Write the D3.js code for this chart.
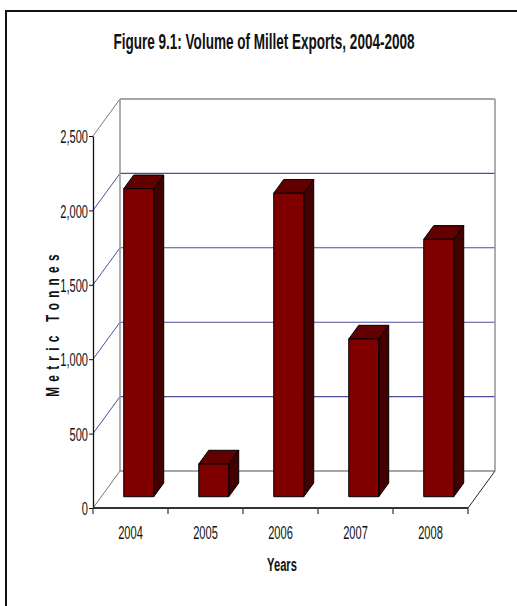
<!DOCTYPE html>
<html>
<head>
<meta charset="utf-8">
<script src="https://cdn.jsdelivr.net/npm/d3@7"></script>
<style>
  html, body { margin: 0; padding: 0; background: #fff; }
  svg { display: block; font-family: "Liberation Sans", Arial, sans-serif; }
</style>
</head>
<body>
<svg id="chart" width="517" height="606"></svg>
<script>
// Millet export volumes by year (metric tonnes)
const years = ["2004", "2005", "2006", "2007", "2008"];
const tonnes = [2070, 220, 2040, 1060, 1730];
const yTicks = [0, 500, 1000, 1500, 2000, 2500];
const titleText = "Figure 9.1: Volume of Millet Exports, 2004-2008";
const xTitle = "Years";
const yTitle = "Metric Tonnes";

const svg = d3.select("#chart");

// Plot frame (front plane) and the 3-D depth offset of the back wall
const plot = { left: 93, right: 468, top: 136, bottom: 508 };
const depth = { dx: 27, dy: -37 };
const barDepth = { front: 0.305, back: 0.675 };
const narrow = 0.6; // condensed lettering

const xCat = d3.scaleBand().domain(years).range([plot.left, plot.right]);
const xBar = xCat.copy().paddingInner(0.6).paddingOuter(0.3);
const y = d3.scaleLinear().domain([0, 2500]).range([plot.bottom, plot.top]);

const proj = (px, py, f) => [px + f * depth.dx, py + f * depth.dy];

// Outer frame
svg.append("rect")
  .attr("x", 6).attr("y", 11).attr("width", 620).attr("height", 700)
  .attr("fill", "none").attr("stroke", "#111").attr("stroke-width", 2);

// Title
svg.append("text")
  .attr("transform", `translate(264,49) scale(${narrow + 0.015},1)`)
  .attr("text-anchor", "middle")
  .attr("font-size", 22).attr("font-weight", "bold").attr("fill", "#111")
  .text(titleText);

const walls = svg.append("g").attr("fill", "none");

// Gridlines: side wall diagonal + back wall horizontal
yTicks.forEach(t => {
  const edge = t === 0 || t === 2500;
  const col = edge ? "#8a8a8a" : "#4d4d9e";
  const [bx, by] = proj(plot.left, y(t), 1);
  const [rx] = proj(plot.right, y(t), 1);
  walls.append("line")
    .attr("x1", plot.left).attr("y1", y(t)).attr("x2", bx).attr("y2", by)
    .attr("stroke", edge ? "#777" : col).attr("stroke-width", 1);
  walls.append("line")
    .attr("x1", bx).attr("y1", by).attr("x2", rx).attr("y2", by)
    .attr("stroke", col).attr("stroke-width", edge ? 1.6 : 1.1);
});

// Back wall vertical edges
[plot.left, plot.right].forEach(px => {
  const [bx, byTop] = proj(px, y(2500), 1);
  const [, byBot] = proj(px, y(0), 1);
  walls.append("line")
    .attr("x1", bx).attr("y1", byTop).attr("x2", bx).attr("y2", byBot)
    .attr("stroke", "#9a9a9a").attr("stroke-width", 1.6);
});

// Floor right edge
{
  const [bx, by] = proj(plot.right, y(0), 1);
  walls.append("line")
    .attr("x1", plot.right).attr("y1", y(0)).attr("x2", bx).attr("y2", by)
    .attr("stroke", "#222").attr("stroke-width", 1);
}

// Bars (front, top, side faces)
const bars = svg.append("g").attr("stroke", "#000").attr("stroke-width", 1).attr("stroke-linejoin", "round");
years.forEach((yr, i) => {
  const v = tonnes[i];
  const x0 = xBar(yr), x1 = x0 + xBar.bandwidth();
  const f0 = barDepth.front, f1 = barDepth.back;
  const [fx0, fyTop] = proj(x0, y(v), f0);
  const [fx1, fyBot] = proj(x1, y(0), f0);
  const [bx0, byTop] = proj(x0, y(v), f1);
  const [bx1, byBot] = proj(x1, y(0), f1);
  const g = bars.append("g");
  g.append("polygon")
    .attr("points", [[fx1, fyTop], [bx1, byTop], [bx1, byBot], [fx1, fyBot]].join(" "))
    .attr("fill", "#420000");
  g.append("polygon")
    .attr("points", [[fx0, fyTop], [fx1, fyTop], [bx1, byTop], [bx0, byTop]].join(" "))
    .attr("fill", "#620000");
  g.append("rect")
    .attr("x", fx0).attr("y", fyTop).attr("width", fx1 - fx0).attr("height", fyBot - fyTop)
    .attr("fill", "#800000");
});

// Y axis
const yAxis = svg.append("g")
  .attr("transform", `translate(${plot.left},0)`)
  .call(d3.axisLeft(y).tickValues(yTicks).tickFormat(d3.format(",")).tickSize(4).tickSizeOuter(0));
yAxis.select(".domain").attr("stroke", "#111").attr("stroke-width", 1.3);
yAxis.selectAll(".tick line").attr("stroke", "#111");
yAxis.selectAll(".tick text")
  .attr("x", 0).attr("dy", "0.36em")
  .attr("transform", `translate(-5,0) scale(${narrow},1)`)
  .attr("font-size", 18.5).attr("fill", "#111").attr("font-family", null);

// X axis: baseline, category separators and labels
const xAxis = svg.append("g");
xAxis.append("line")
  .attr("x1", plot.left).attr("x2", plot.right).attr("y1", y(0)).attr("y2", y(0))
  .attr("stroke", "#333").attr("stroke-width", 2);
const edges = years.map(d => xCat(d)).concat([plot.right]);
xAxis.selectAll("line.sep").data(edges).join("line").attr("class", "sep")
  .attr("x1", d => d).attr("x2", d => d)
  .attr("y1", y(0)).attr("y2", y(0) + 6)
  .attr("stroke", "#333").attr("stroke-width", 1.2);
xAxis.selectAll("text").data(years).join("text")
  .attr("transform", d => `translate(${xCat(d) + xCat.bandwidth() / 2},539) scale(${narrow},1)`)
  .attr("text-anchor", "middle").attr("font-size", 18.5).attr("fill", "#111")
  .text(d => d);

// Axis titles
svg.append("text")
  .attr("transform", `translate(282,571) scale(0.64,1)`)
  .attr("text-anchor", "middle").attr("font-size", 17.5).attr("font-weight", "bold").attr("fill", "#111")
  .text(xTitle);

svg.append("text")
  .attr("transform", "translate(59,323) rotate(-90) scale(0.62,1)")
  .attr("text-anchor", "middle").attr("font-size", 19).attr("font-weight", "bold")
  .attr("letter-spacing", 8.5).attr("fill", "#111")
  .text(yTitle);
</script>
</body>
</html>
